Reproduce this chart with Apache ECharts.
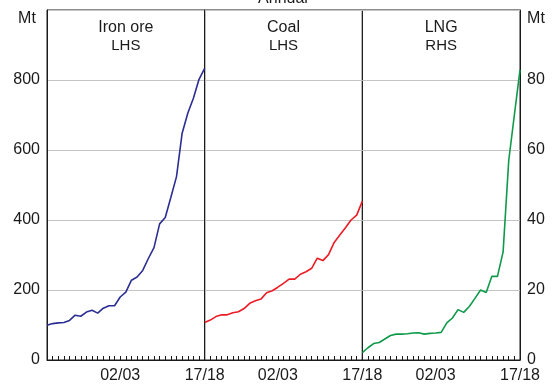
<!DOCTYPE html>
<html>
<head>
<meta charset="utf-8">
<script src="https://cdn.jsdelivr.net/npm/echarts@6/dist/echarts.min.js"></script>
<style>
  html, body { margin: 0; padding: 0; background: #fff; }
  #chart { width: 554px; height: 384px; }
</style>
</head>
<body>
<div id="chart"></div>
<script>
// Financial years 1989/90 to 2017/18
const years = [
  '89/90','90/91','91/92','92/93','93/94','94/95','95/96','96/97','97/98','98/99',
  '99/00','00/01','01/02','02/03','03/04','04/05','05/06','06/07','07/08','08/09',
  '09/10','10/11','11/12','12/13','13/14','14/15','15/16','16/17','17/18'
];
const labelledYears = ['02/03', '17/18'];

// Export volumes, Mt
const ironOre = [99,104,106,107,113,128,125,137,142,134,148,155,155,180,194,228,237,256,290,321,389,407,465,524,648,705,748,802,833];
const coal    = [107,114,124,129,129,135,138,147,162,169,174,192,198,208,219,231,231,245,252,262,291,284,301,336,357,378,400,414,454];
const lng     = [2.1,3.5,4.7,5.0,6.0,7.0,7.4,7.4,7.5,7.7,7.8,7.4,7.6,7.7,7.9,10.6,12.0,14.4,13.6,15.3,17.6,20.0,19.3,23.9,23.9,30.9,57,70,82.9];

// Left and right axis ticks
const lhsTicks = { min: 0, max: 1000, interval: 200 };
const rhsTicks = { min: 0, max: 100, interval: 20 };

const panels = [
  { title: 'Iron ore', side: 'LHS', data: ironOre, color: '#2b2e92' },
  { title: 'Coal',     side: 'LHS', data: coal,    color: '#ec1c24' },
  { title: 'LNG',      side: 'RHS', data: lng,     color: '#0e9a4a' }
];

const FONT = 'Liberation Sans, Arial, sans-serif';
const TEXT = '#1a1a1a';
const plotTop = 10, plotBottom = 360, plotLeft = 47, plotRight = 520;
const panelW = (plotRight - plotLeft) / 3;

const grids = [], xAxes = [], yAxes = [], series = [], graphics = [];

panels.forEach((p, i) => {
  const left = plotLeft + i * panelW;
  grids.push({
    left: left, width: panelW, top: plotTop, height: plotBottom - plotTop,
    show: true, borderColor: '#1a1a1a', borderWidth: 1, backgroundColor: 'transparent'
  });
  xAxes.push({
    type: 'category', gridIndex: i, data: years, boundaryGap: false,
    axisLine: { show: true, lineStyle: { color: '#1a1a1a', width: 1 } },
    axisTick: { show: true, inside: true, length: 4, interval: 0, lineStyle: { color: '#1a1a1a' } },
    axisLabel: {
      interval: (idx, val) => labelledYears.includes(val),
      color: TEXT, fontFamily: FONT, fontSize: 16, margin: 8
    },
    splitLine: { show: false }
  });
  const isRight = p.side === 'RHS';
  const ticks = isRight ? rhsTicks : lhsTicks;
  const showLabels = i === 0 || i === 2;
  yAxes.push({
    type: 'value', gridIndex: i, position: i === 2 ? 'right' : 'left',
    min: ticks.min, max: ticks.max, interval: ticks.interval,
    axisLine: { show: true, lineStyle: { color: '#1a1a1a', width: 1 } },
    axisTick: { show: false },
    axisLabel: {
      show: showLabels, color: TEXT, fontFamily: FONT, fontSize: 16, margin: 7,
      formatter: v => (v === ticks.max ? '' : String(v))
    },
    splitLine: { show: true, lineStyle: { color: '#c4c4c4', width: 1 } }
  });
  series.push({
    type: 'line', xAxisIndex: i, yAxisIndex: i, data: p.data,
    showSymbol: false, symbol: 'none', smooth: false,
    lineStyle: { color: p.color, width: 1.6 }, z: 3
  });
  const cx = left + panelW / 2;
  graphics.push(
    { type: 'text', x: cx, y: 28, style: { text: p.title, font: '16px ' + FONT, fill: TEXT, align: 'center', verticalAlign: 'middle' } },
    { type: 'text', x: cx, y: 46, style: { text: p.side, font: '15px ' + FONT, fill: TEXT, align: 'center', verticalAlign: 'middle' } }
  );
});

// Axis units and the chart heading (heading sits mostly above the canvas edge)
graphics.push(
  { type: 'text', x: 27, y: 19, style: { text: 'Mt', font: '16px ' + FONT, fill: TEXT, align: 'center', verticalAlign: 'middle' } },
  { type: 'text', x: 536, y: 19, style: { text: 'Mt', font: '16px ' + FONT, fill: TEXT, align: 'center', verticalAlign: 'middle' } },
  { type: 'text', x: 283, y: 7, style: { text: 'Annual', font: '16px ' + FONT, fill: TEXT, align: 'center', verticalAlign: 'bottom' } }
);

const chart = echarts.init(document.getElementById('chart'), null, { renderer: 'canvas' });
chart.setOption({
  animation: false,
  backgroundColor: '#ffffff',
  grid: grids,
  xAxis: xAxes,
  yAxis: yAxes,
  series: series,
  graphic: graphics
});
</script>
</body>
</html>
